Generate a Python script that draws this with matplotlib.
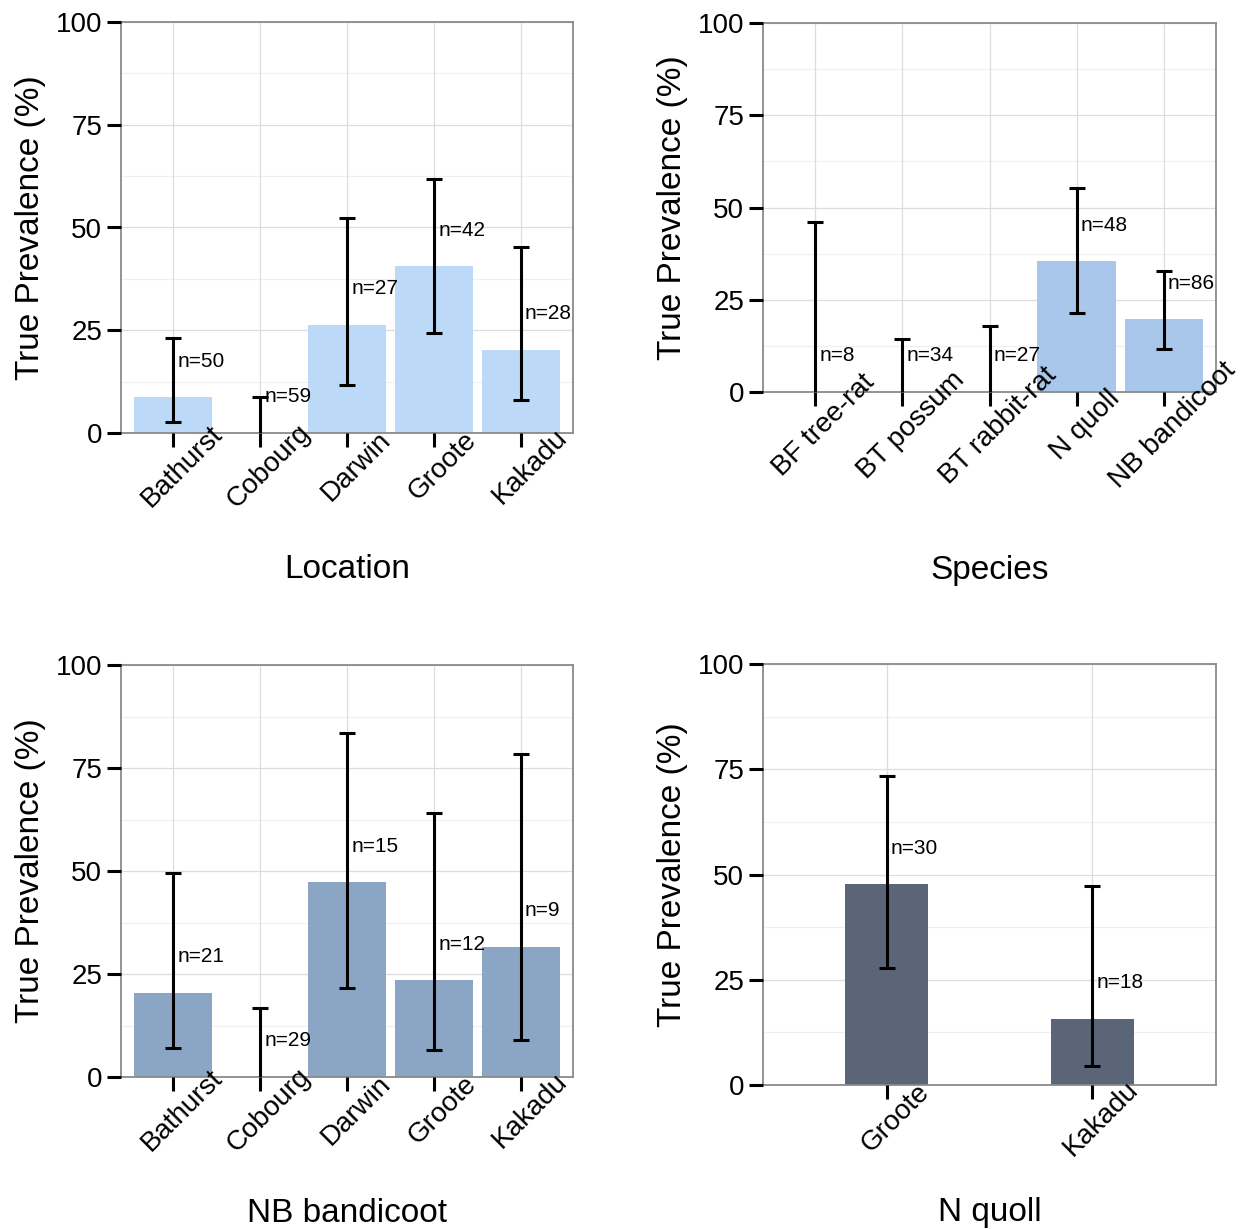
import matplotlib
matplotlib.use('Agg')
import matplotlib.pyplot as plt
import matplotlib.transforms as mtransforms
import numpy as np

plt.rcParams['font.family'] = ['Liberation Sans', 'DejaVu Sans']

# panel 1: by location
loc_names = ['Bathurst', 'Cobourg', 'Darwin', 'Groote', 'Kakadu']
loc_prev = [8.7, 0.0, 26.3, 40.6, 20.3]
loc_low = [2.7, 0.0, 11.6, 24.4, 8.0]
loc_high = [23.2, 8.7, 52.4, 61.8, 45.2]
loc_n = [50, 59, 27, 42, 28]

# panel 2: by species
sp_names = ['BF tree-rat', 'BT possum', 'BT rabbit-rat', 'N quoll', 'NB bandicoot']
sp_prev = [0.0, 0.0, 0.0, 35.4, 19.7]
sp_low = [0.0, 0.0, 0.0, 21.4, 11.6]
sp_high = [46.2, 14.3, 17.8, 55.4, 32.7]
sp_n = [8, 34, 27, 48, 86]

# panel 3: NB bandicoot by location
nb_names = ['Bathurst', 'Cobourg', 'Darwin', 'Groote', 'Kakadu']
nb_prev = [20.4, 0.0, 47.3, 23.5, 31.6]
nb_low = [7.0, 0.0, 21.6, 6.6, 9.0]
nb_high = [49.5, 16.7, 83.5, 64.1, 78.4]
nb_n = [21, 29, 15, 12, 9]

# panel 4: N quoll by location
nq_names = ['Groote', 'Kakadu']
nq_prev = [47.7, 15.7]
nq_low = [27.8, 4.5]
nq_high = [73.4, 47.3]
nq_n = [30, 18]

W, H = 1241, 1229
major_y = [0, 25, 50, 75, 100]
minor_y = [12.5, 37.5, 62.5, 87.5]


def px_axes(fig, left, top, right, bottom):
    return fig.add_axes([left / W, 1 - bottom / H, (right - left) / W, (bottom - top) / H])


def draw_panel(ax, names, prev, low, high, n, color, xtitle, width=0.9):
    x = np.arange(len(names))
    prev = np.array(prev)
    low = np.array(low)
    yerr = [prev - low, np.array(high) - prev]

    # grid drawn by hand so the axis (tick labels) can sit above the bars
    for yv in minor_y:
        ax.axhline(yv, color='#f0f0f0', linewidth=0.9, zorder=0)
    for yv in major_y:
        ax.axhline(yv, color='#dddddd', linewidth=0.9, zorder=0)
    for xv in x:
        ax.axvline(xv, color='#dddddd', linewidth=0.9, zorder=0)

    ax.bar(x, prev, width=width, color=color, zorder=2)
    eb = ax.errorbar(x, prev, yerr=yerr, fmt='none', ecolor='black', elinewidth=2.2,
                     capsize=6, capthick=2.2, zorder=3)
    # no lower cap when the interval starts at zero
    lower_cap = eb[1][0]
    lower_cap.set_ydata(np.where(low > 0, low, np.nan))
    for xi, v, ni in zip(x, prev, n):
        ax.annotate('n=%d' % ni, xy=(xi, v), xytext=(3, 26), textcoords='offset points',
                    ha='left', va='center', fontsize=15, zorder=4)

    ax.set_xlim(-0.6, len(names) - 0.4)
    ax.set_ylim(0, 100)
    ax.set_yticks(major_y)
    ax.set_xticks(x)
    ax.set_axisbelow(False)

    for s in ax.spines.values():
        s.set_color('#8a8a8a')
        s.set_linewidth(1.3)
    ax.tick_params(which='major', length=10, width=2.2, color='black', labelsize=20,
                   labelcolor='black')
    ax.tick_params(axis='x', pad=14)

    ax.set_xticklabels(names, rotation=45, rotation_mode='anchor', ha='center', va='center')
    offset = mtransforms.ScaledTranslation(9 / 100, 0, ax.figure.dpi_scale_trans)
    for lab in ax.get_xticklabels():
        lab.set_transform(lab.get_transform() + offset)

    ax.set_ylabel('True Prevalence (%)', fontsize=24, va='center')
    ax.yaxis.set_label_coords(-0.2, 0.5)
    ax.set_xlabel(xtitle, fontsize=24)


fig = plt.figure(figsize=(W / 100, H / 100), dpi=100)

ax1 = px_axes(fig, 121, 22, 573, 433)
draw_panel(ax1, loc_names, loc_prev, loc_low, loc_high, loc_n, '#bcdaf8', 'Location')

ax2 = px_axes(fig, 763, 23, 1216, 392)
draw_panel(ax2, sp_names, sp_prev, sp_low, sp_high, sp_n, '#a9c7ea', 'Species')

ax3 = px_axes(fig, 121, 665, 573, 1077)
draw_panel(ax3, nb_names, nb_prev, nb_low, nb_high, nb_n, '#8ba6c5', 'NB bandicoot')

ax4 = px_axes(fig, 763, 664, 1216, 1085)
draw_panel(ax4, nq_names, nq_prev, nq_low, nq_high, nq_n, '#5a6678', 'N quoll', width=0.4)

# x titles sit at fixed heights in the figure
for ax, y in [(ax1, 570), (ax2, 570), (ax3, 1213), (ax4, 1213)]:
    ax.xaxis.set_label_coords(0.5, 0, transform=mtransforms.blended_transform_factory(
        ax.transAxes, fig.transFigure))
    ax.xaxis.label.set_position((0.5, 1 - y / H))
    ax.xaxis.label.set_va('center')

fig.savefig('out.png', dpi=100)
